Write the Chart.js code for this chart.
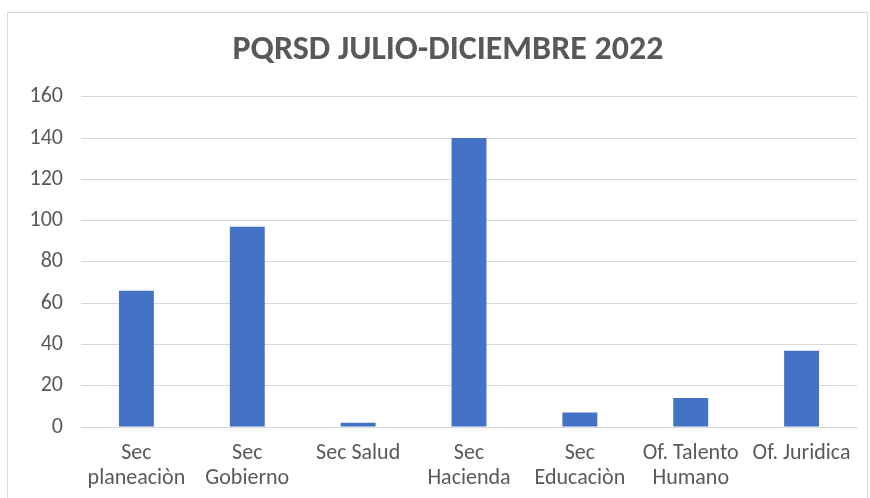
<!DOCTYPE html>
<html>
<head>
<meta charset="utf-8">
<script src="https://cdn.jsdelivr.net/npm/chart.js@4"></script>
<style>
  html, body { margin: 0; padding: 0; background: #fff; overflow: hidden; }
  #box { position: absolute; left: 7px; top: 12px; width: 861px; height: 490px;
         border: 1px solid #d9d9d9; box-sizing: border-box; }
</style>
</head>
<body>
<div id="box"><canvas id="pqrsd"></canvas></div>
<script>
// data
var labels = [
    ['Sec', 'planeaciòn'],
    ['Sec', 'Gobierno'],
    'Sec Salud',
    ['Sec', 'Hacienda'],
    ['Sec', 'Educaciòn'],
    ['Of. Talento', 'Humano'],
    'Of. Juridica'
];
var values = [66, 97, 2, 140, 7, 14, 37];
var yTicks = [0, 20, 40, 60, 80, 100, 120, 140, 160];

var fontFam = 'Carlito, "Liberation Sans Narrow", "Open Sans", sans-serif';

//================ bar chart
var ctx = document.getElementById('pqrsd');
var chart = new Chart(ctx, {
    type: 'bar',
    data: {
        labels: labels,
        datasets: [{
            label: 'PQRSD',
            data: values,
            backgroundColor: '#4472c4',
            borderWidth: 0,
            barPercentage: 0.63,
            categoryPercentage: 0.5
        }]
    },
    options: {
        responsive: true,
        maintainAspectRatio: false,
        animation: false,
        // negative right padding moves the title centre right like the original,
        // the empty right axis gives the plot its right edge back
        layout: { padding: { left: 0, right: -21, top: 0, bottom: 0 } },
        plugins: {
            legend: { display: false },
            tooltip: { enabled: false },
            title: {
                display: true,
                text: 'PQRSD JULIO-DICIEMBRE 2022',
                color: '#595959',
                font: { family: fontFam, size: 34, weight: 'bold' },
                padding: { top: 17, bottom: 26 }
            }
        },
        scales: {
            x: {
                grid: { display: false, drawTicks: false },
                border: { display: true, color: '#d9d9d9', width: 1 },
                afterFit: function(axis) { axis.height = 74; },
                ticks: {
                    color: '#595959',
                    padding: 14,
                    maxRotation: 0,
                    autoSkip: false,
                    font: { family: fontFam, size: 22, lineHeight: 1.14 }
                }
            },
            y: {
                min: 0,
                max: 160,
                afterBuildTicks: function(axis) {
                    axis.ticks = yTicks.map(function(v) { return { value: v }; });
                },
                afterFit: function(axis) { axis.width = 73; },
                grid: { color: '#d9d9d9', lineWidth: 1, drawTicks: false },
                border: { display: false },
                ticks: {
                    color: '#595959',
                    padding: 18,
                    font: { family: fontFam, size: 22 }
                }
            },
            yRight: {
                type: 'linear',
                position: 'right',
                min: 0,
                max: 160,
                afterFit: function(axis) { axis.width = 31; },
                grid: { display: false, drawTicks: false },
                border: { display: false },
                ticks: { display: false }
            }
        }
    }
});
</script>
</body>
</html>
